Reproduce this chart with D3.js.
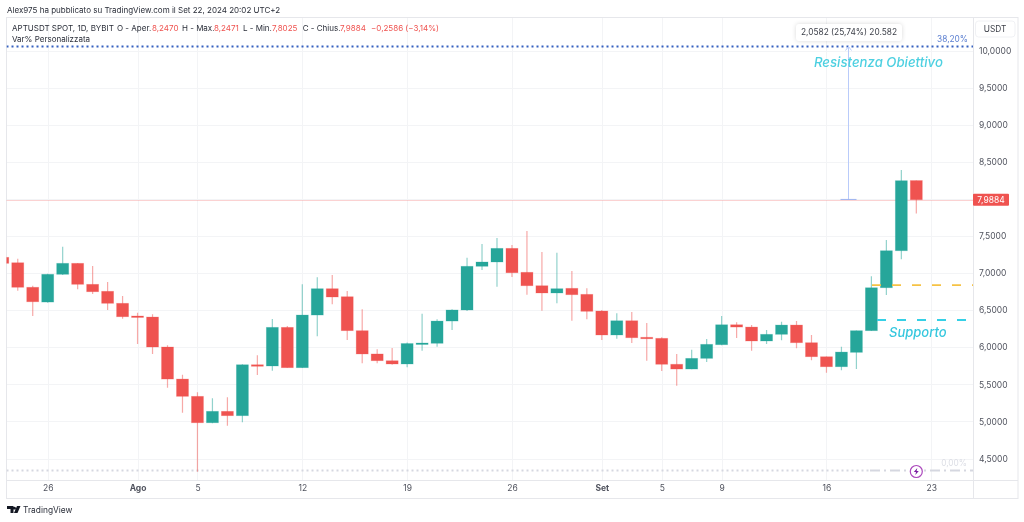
<!DOCTYPE html>
<html>
<head>
<meta charset="utf-8">
<script src="https://cdn.jsdelivr.net/npm/d3@7"></script>
<style>
  html, body { margin: 0; padding: 0; background: #fff; }
  svg { display: block; filter: blur(0.3px); }
  text { font-family: Inter, "Liberation Sans", sans-serif; }
</style>
</head>
<body>
<svg id="chart" width="1024" height="522"></svg>
<script>
// daily candles, first one is 23 Jul 2024
const startDate = '2024-07-23';
const opens = [7.212,7.139,6.808,6.609,6.983,7.131,6.848,6.754,6.592,6.421,6.407,6.003,5.571,5.338,4.982,5.136,5.077,5.764,5.747,6.268,5.724,6.434,6.789,6.681,6.223,5.909,5.818,5.774,6.047,6.053,6.353,6.502,7.091,7.149,7.333,7.010,6.829,6.731,6.794,6.713,6.488,6.165,6.357,6.134,6.120,5.770,5.706,5.850,6.034,6.303,6.272,6.084,6.174,6.299,6.061,5.872,5.737,5.931,6.223,6.802,7.301,8.2470];
const highs = [7.220,7.193,6.829,6.990,7.355,7.135,7.095,6.879,6.690,6.465,6.444,6.026,5.629,5.392,5.311,5.325,5.770,5.891,6.380,6.286,6.848,6.942,6.973,6.758,6.511,5.972,5.989,6.065,6.452,6.376,6.511,7.207,7.391,7.472,7.378,7.567,7.283,7.274,7.027,6.794,6.502,6.457,6.475,6.326,6.134,5.909,5.966,6.111,6.421,6.336,6.299,6.232,6.344,6.353,6.165,5.875,6.007,6.225,6.956,7.445,8.389,8.2471];
const lows = [7.130,6.762,6.421,6.600,6.973,6.781,6.717,6.502,6.384,6.043,5.909,5.454,5.117,4.320,4.974,4.942,4.988,5.625,5.683,5.724,5.720,6.147,6.579,6.097,5.783,5.783,5.764,5.729,5.953,6.007,6.232,6.488,7.041,6.816,6.946,6.708,6.492,6.592,6.357,6.376,6.097,6.115,6.057,5.818,5.679,5.481,5.702,5.801,6.026,6.124,5.953,6.043,6.093,5.985,5.823,5.656,5.689,5.706,6.220,6.704,7.185,7.8025];
const closes = [7.131,6.808,6.613,6.983,7.131,6.848,6.748,6.592,6.411,6.411,6.003,5.571,5.338,4.982,5.136,5.077,5.764,5.743,6.268,5.724,6.434,6.789,6.677,6.223,5.909,5.818,5.774,6.050,6.057,6.353,6.502,7.091,7.149,7.333,7.004,6.829,6.731,6.789,6.708,6.484,6.165,6.357,6.128,6.115,5.770,5.706,5.850,6.039,6.303,6.272,6.084,6.174,6.299,6.061,5.872,5.737,5.935,6.223,6.802,7.301,8.245,7.9884];

const priceTicks = [4.5,5,5.5,6,6.5,7,7.5,8,8.5,9,9.5,10];
const hiddenPriceLabel = 8; // sits under the last price tag
const dateTicks = ['2024-07-26','2024-08-01','2024-08-05','2024-08-12','2024-08-19','2024-08-26','2024-09-01','2024-09-05','2024-09-09','2024-09-16','2024-09-23'];
const dateLabels = ['26','Ago','5','12','19','26','Set','5','9','16','23'];

// drawn levels
const lastPrice = 7.9884;
const fibHigh = 10.054;
const fibLow = 4.338;
const yellowLevel = 6.837;
const cyanLevel = 6.367;

const config = {
  left: 6.5, right: 973, top: 17, bottom: 480, axisBottom: 498, outer: 1018,
  bodyWidth: 12,
  grid: '#f3f4f6',
  border: '#e6e7eb',
  up: '#26a69a',
  down: '#ef5350',
  label: '#50535e',
};

const parse = d3.utcParse('%Y-%m-%d');
const days = d3.utcDay.range(parse(startDate), d3.utcDay.offset(parse(startDate), opens.length));

const x = d3.scaleUtc()
  .domain([parse('2024-07-26'), parse('2024-09-23')])
  .range([47.7, 931.3]);
const y = d3.scaleLinear()
  .domain([4.5, 10])
  .range([458.5, 50.5]);

const fmtPrice = d => d3.format('.4f')(d).replace('.', ',');

const svg = d3.select('#chart');

svg.append('clipPath').attr('id', 'plot')
  .append('rect')
  .attr('x', config.left).attr('y', config.top)
  .attr('width', config.right - config.left)
  .attr('height', config.bottom - config.top);

// grid
const grid = svg.append('g').attr('stroke', config.grid).attr('stroke-width', 1);
grid.selectAll('.h').data(priceTicks).join('line')
  .attr('x1', config.left).attr('x2', config.right)
  .attr('y1', d => Math.round(y(d)) + 0.5).attr('y2', d => Math.round(y(d)) + 0.5);
grid.selectAll('.v').data(dateTicks).join('line')
  .attr('x1', d => Math.round(x(parse(d))) + 0.5).attr('x2', d => Math.round(x(parse(d))) + 0.5)
  .attr('y1', config.top).attr('y2', config.bottom);

// frame
const frame = svg.append('g').attr('stroke', config.border).attr('fill', 'none');
frame.append('rect')
  .attr('x', config.left).attr('y', config.top + 0.5)
  .attr('width', config.outer - config.left)
  .attr('height', config.axisBottom - config.top);
frame.append('line').attr('x1', config.left).attr('x2', config.outer).attr('y1', config.bottom + 0.5).attr('y2', config.bottom + 0.5);
frame.append('line').attr('x1', config.right + 0.5).attr('x2', config.right + 0.5).attr('y1', config.top).attr('y2', config.axisBottom);

const plot = svg.append('g').attr('clip-path', 'url(#plot)');

// last price line
plot.append('line')
  .attr('x1', config.left).attr('x2', config.right)
  .attr('y1', Math.round(y(lastPrice)) + 0.5).attr('y2', Math.round(y(lastPrice)) + 0.5)
  .attr('stroke', '#f6a5a5').attr('stroke-width', 1).attr('stroke-dasharray', '1 1');

// fib levels
plot.append('line')
  .attr('x1', config.left).attr('x2', config.right)
  .attr('y1', y(fibHigh)).attr('y2', y(fibHigh))
  .attr('stroke', '#3560c0').attr('stroke-width', 1.8).attr('stroke-dasharray', '2 3');
plot.append('line')
  .attr('x1', config.left).attr('x2', 870)
  .attr('y1', y(fibLow)).attr('y2', y(fibLow))
  .attr('stroke', '#d5d7e0').attr('stroke-width', 1.8).attr('stroke-dasharray', '2 3');
plot.append('line')
  .attr('x1', 870).attr('x2', config.right)
  .attr('y1', y(fibLow)).attr('y2', y(fibLow))
  .attr('stroke', '#d5d7e0').attr('stroke-width', 1.8).attr('stroke-dasharray', '10 4 2 4');

// candles
const candles = plot.selectAll('.candle')
  .data(days.map((day, i) => ({ day, open: opens[i], high: highs[i], low: lows[i], close: closes[i] })))
  .join('g')
  .attr('class', 'candle');

candles.append('line')
  .attr('x1', d => x(d.day)).attr('x2', d => x(d.day))
  .attr('y1', d => y(d.high)).attr('y2', d => y(d.low))
  .attr('stroke', d => d.close >= d.open ? config.up : config.down)
  .attr('stroke-opacity', 0.5)
  .attr('stroke-width', 1.2);

candles.append('rect')
  .attr('x', d => x(d.day) - config.bodyWidth / 2)
  .attr('width', config.bodyWidth)
  .attr('y', d => y(Math.max(d.open, d.close)))
  .attr('height', d => Math.max(1.5, Math.abs(y(d.open) - y(d.close))))
  .attr('fill', d => d.close >= d.open ? config.up : config.down)
  .attr('stroke', d => d.close >= d.open ? config.up : config.down)
  .attr('stroke-opacity', 0.3)
  .attr('stroke-width', 0.8);

// support lines
plot.append('line')
  .attr('x1', 872).attr('x2', config.right)
  .attr('y1', y(yellowLevel)).attr('y2', y(yellowLevel))
  .attr('stroke', '#f6c244').attr('stroke-width', 1.8).attr('stroke-dasharray', '9 11');
plot.append('line')
  .attr('x1', 877).attr('x2', config.right)
  .attr('y1', y(cyanLevel)).attr('y2', y(cyanLevel))
  .attr('stroke', '#35d0e6').attr('stroke-width', 1.8).attr('stroke-dasharray', '9 11');

// measure arrow
const arrowDay = d3.utcHour.offset(parse('2024-09-17'), 10);
const arrowX = Math.round(x(arrowDay)) + 0.5;
const arrow = svg.append('g').attr('stroke', '#b9cbfa').attr('fill', 'none');
arrow.append('line')
  .attr('x1', arrowX).attr('x2', arrowX)
  .attr('y1', y(lastPrice)).attr('y2', y(fibHigh));
arrow.append('line')
  .attr('x1', arrowX - 8).attr('x2', arrowX + 8)
  .attr('y1', y(lastPrice) - 0.3).attr('y2', y(lastPrice) - 0.3)
  .attr('stroke', '#9db2ee');
arrow.append('path')
  .attr('d', `M${arrowX - 3},${y(fibHigh) + 4}L${arrowX},${y(fibHigh)}L${arrowX + 3},${y(fibHigh) + 4}`);

// measure tooltip
svg.append('rect')
  .attr('x', 796).attr('y', 24).attr('width', 106).attr('height', 17).attr('rx', 3)
  .attr('fill', '#fff')
  .style('filter', 'drop-shadow(0 0 2px rgba(0,0,0,.15))');
svg.append('text')
  .attr('x', 849).attr('y', 35.4).attr('text-anchor', 'middle')
  .attr('font-size', 8.3).attr('fill', '#3c3f48')
  .text('2,0582 (25,74%) 20.582');

// fib labels
svg.append('text')
  .attr('x', 968).attr('y', 41.5).attr('text-anchor', 'end')
  .attr('font-size', 8.3).attr('fill', '#5b7fd0')
  .text('38,20%');
svg.append('text')
  .attr('x', 967).attr('y', 466).attr('text-anchor', 'end')
  .attr('font-size', 8.3).attr('fill', '#dcdee5')
  .text('0,00%');

// notes
svg.append('text')
  .attr('x', 814).attr('y', 67)
  .attr('font-size', 13.2).attr('font-style', 'italic').attr('font-weight', 500).attr('fill', '#4dd0e1')
  .text('Resistenza Obiettivo');
svg.append('text')
  .attr('x', 889).attr('y', 337)
  .attr('font-size', 13).attr('font-style', 'italic').attr('font-weight', 500).attr('fill', '#35c7de')
  .text('Supporto');

// flash badge
const badge = svg.append('g').attr('transform', 'translate(916.3,471.5)');
badge.append('circle').attr('r', 6).attr('fill', '#fff').attr('stroke', '#ab47bc').attr('stroke-width', 1.2);
badge.append('path').attr('d', 'M1,-3.5L-2.5,0.5H-0.3L-1,3.5L2.5,-0.5H0.3Z').attr('fill', '#7b1fa2');

// axes
const yAxis = d3.axisRight(y)
  .tickValues(priceTicks.filter(d => d !== hiddenPriceLabel))
  .tickSize(0)
  .tickPadding(0)
  .tickFormat(fmtPrice);
const yAxisG = svg.append('g')
  .attr('transform', `translate(979,0)`)
  .call(yAxis);

const xAxis = d3.axisBottom(x)
  .tickValues(dateTicks.map(parse))
  .tickSize(0)
  .tickPadding(0)
  .tickFormat((d, i) => dateLabels[i]);
const xAxisG = svg.append('g')
  .attr('transform', `translate(0,${config.bottom + 5})`)
  .call(xAxis);

[yAxisG, xAxisG].forEach(g => {
  g.select('.domain').remove();
  g.selectAll('text')
    .attr('font-size', 8.5)
    .attr('fill', config.label)
    .style('font-family', 'Inter, "Liberation Sans", sans-serif');
});
xAxisG.selectAll('.tick text')
  .attr('font-weight', (d, i) => ['Ago', 'Set'].includes(dateLabels[i]) ? 700 : 400);

// USDT box
svg.append('rect')
  .attr('x', 975.5).attr('y', 21).attr('width', 39.5).attr('height', 16).attr('rx', 3)
  .attr('fill', '#fff').attr('stroke', '#f0f1f4');
svg.append('text')
  .attr('x', 995).attr('y', 32).attr('text-anchor', 'middle')
  .attr('font-size', 8.3).attr('fill', '#3c3f48')
  .text('USDT');

// last price tag
svg.append('rect')
  .attr('x', 973).attr('y', y(lastPrice) - 6).attr('width', 36).attr('height', 12).attr('rx', 1)
  .attr('fill', config.down);
svg.append('text')
  .attr('x', 991).attr('y', y(lastPrice) + 3.1).attr('text-anchor', 'middle')
  .attr('font-size', 8.5).attr('fill', '#fff')
  .text(fmtPrice(lastPrice));

// header
svg.append('text')
  .attr('x', 7).attr('y', 13.3)
  .attr('font-size', 8).attr('fill', '#2a2e39')
  .text('Alex975 ha pubblicato su TradingView.com il Set 22, 2024 20:02 UTC+2');

// legend row
const legendParts = [
  ['APTUSDT SPOT, 1D, BYBIT', false, 12],
  ['O - Aper.', false, 117],
  ['8,2470', true, 152],
  ['H - Max.', false, 182],
  ['8,2471', true, 214],
  ['L - Min.', false, 243],
  ['7,8025', true, 272],
  ['C - Chius.', false, 302.7],
  ['7,9884', true, 340],
  ['\u22120,2586 (\u22123,14%)', true, 371],
];
svg.append('g').selectAll('text').data(legendParts).join('text')
  .attr('x', d => d[2]).attr('y', 31)
  .attr('font-size', 8)
  .attr('fill', d => d[1] ? config.down : '#2a2e39')
  .text(d => d[0]);
svg.append('text')
  .attr('x', 12).attr('y', 42)
  .attr('font-size', 8).attr('fill', '#2a2e39')
  .text('Var% Personalizzata');

// TradingView logo
svg.append('path')
  .attr('d', 'M7,506H13.5V513H10.5V509H7ZM14.5,506.8A1.4,1.4 0 1 1 14.49,506.8ZM17,506H20.5L17.5,513H14Z')
  .attr('fill', '#131722');
svg.append('text')
  .attr('x', 23).attr('y', 513.3)
  .attr('font-size', 8.4).attr('fill', '#2a2e39')
  .text('TradingView');
</script>
</body>
</html>
